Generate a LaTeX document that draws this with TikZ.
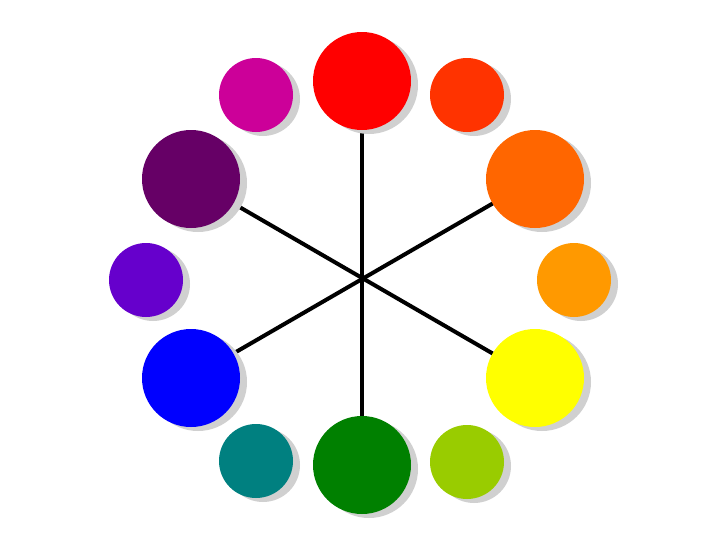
\documentclass[tikz,border=0pt]{standalone}
\usetikzlibrary{calc}
\definecolor{cRed}{HTML}{FF0000}
\definecolor{cRedOrange}{HTML}{FF3300}
\definecolor{cOrange}{HTML}{FF6600}
\definecolor{cOrangeYellow}{HTML}{FF9900}
\definecolor{cYellow}{HTML}{FFFF00}
\definecolor{cYellowGreen}{HTML}{99CC00}
\definecolor{cGreen}{HTML}{008000}
\definecolor{cTeal}{HTML}{008080}
\definecolor{cBlue}{HTML}{0000FF}
\definecolor{cViolet}{HTML}{6600CC}
\definecolor{cPurple}{HTML}{660066}
\definecolor{cMagenta}{HTML}{CC0099}
\definecolor{shadowgray}{HTML}{D0D0D0}
\tikzset{
  bigdot/.style={circle, minimum size=98pt, inner sep=0pt, draw=none},
  smalldot/.style={circle, minimum size=74pt, inner sep=0pt, draw=none},
  spoke/.style={line width=4pt, black},
}
\newcommand{\dotwithshadow}[5]{%
  % #1 name, #2 style, #3 colour, #4 x, #5 y
  \node[#2, fill=shadowgray] (#1s) at (#4+7,#5+4) {};
  \node[#2, fill=#3] (#1) at (#4,#5) {};
}
\begin{document}
\begin{tikzpicture}[x=1pt,y=-1pt]
\useasboundingbox (0,0) rectangle (728,546);
% spoke ends (centres of the large circles)
\coordinate (pRed) at (362,81);
\coordinate (pOrange) at (535,179);
\coordinate (pYellow) at (535,378);
\coordinate (pGreen) at (362,465);
\coordinate (pBlue) at (191,378);
\coordinate (pPurple) at (191,179);
% spokes (behind the circles)
\draw[spoke] (pRed) -- (pGreen);
\draw[spoke] (pOrange) -- (pBlue);
\draw[spoke] (pYellow) -- (pPurple);
% large circles
\dotwithshadow{red}{bigdot}{cRed}{362}{81}
\dotwithshadow{orange}{bigdot}{cOrange}{535}{179}
\dotwithshadow{yellow}{bigdot}{cYellow}{535}{378}
\dotwithshadow{green}{bigdot}{cGreen}{362}{465}
\dotwithshadow{blue}{bigdot}{cBlue}{191}{378}
\dotwithshadow{purple}{bigdot}{cPurple}{191}{179}
% small circles
\dotwithshadow{redorange}{smalldot}{cRedOrange}{467}{95}
\dotwithshadow{orangeyellow}{smalldot}{cOrangeYellow}{574}{280}
\dotwithshadow{yellowgreen}{smalldot}{cYellowGreen}{467}{462}
\dotwithshadow{teal}{smalldot}{cTeal}{256}{461}
\dotwithshadow{violet}{smalldot}{cViolet}{146}{280}
\dotwithshadow{magenta}{smalldot}{cMagenta}{256}{95}
\end{tikzpicture}
\end{document}
